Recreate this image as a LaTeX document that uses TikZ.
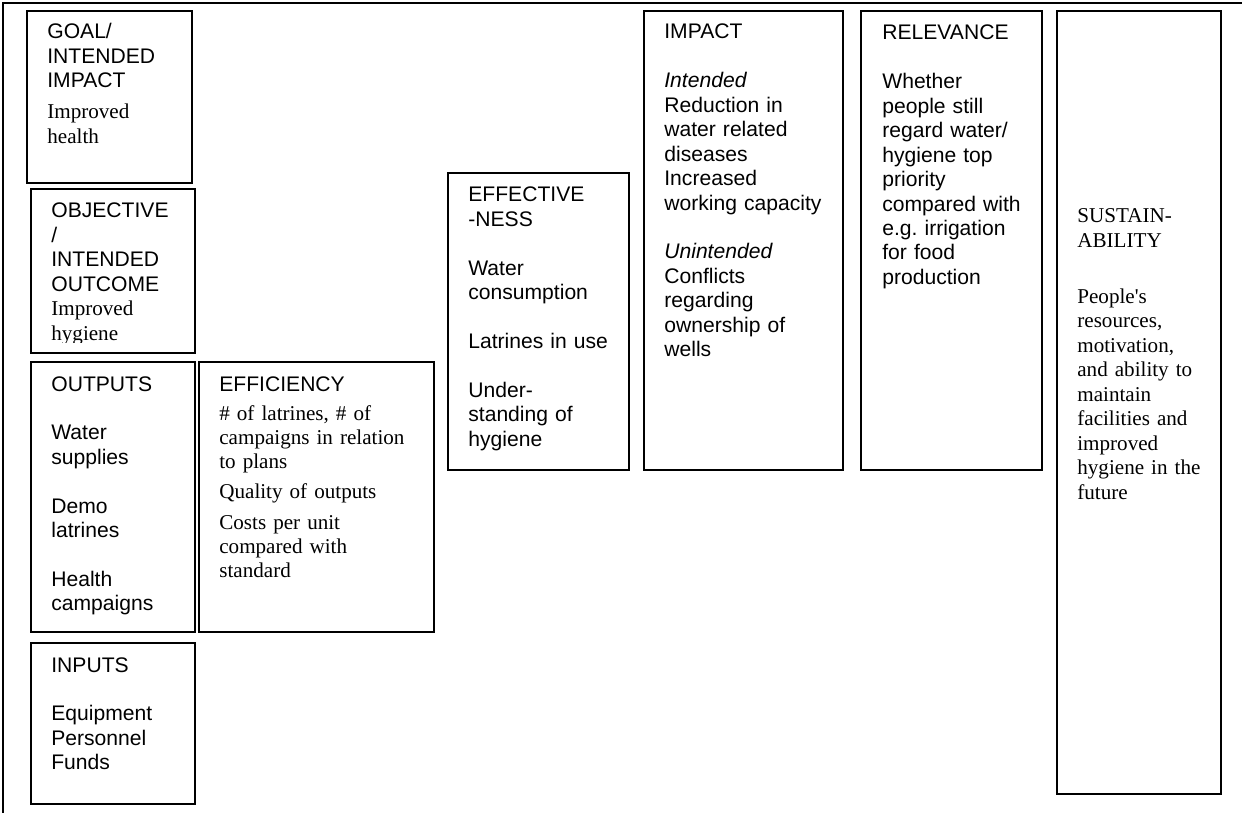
\documentclass[tikz,border=0pt]{standalone}
\usepackage{fontspec}
\setmainfont{Liberation Serif}
\setsansfont{Liberation Sans}
\frenchspacing
\newcommand{\pxl}{0.5687pt}
\tikzset{
	panel/.style 2 args={draw, line width=1.1pt, inner sep=0pt, anchor=north west,
		minimum width=#1*\pxl, minimum height=#2*\pxl}, % one box of the chart
	entry/.style={anchor=base west, inner sep=0pt, align=left, text width=125pt,
		font=\fontsize{12}{13.9}\selectfont\sffamily}, % text of a box
}

\begin{document}
\begin{tikzpicture}[x=\pxl, y=-\pxl]
	\useasboundingbox (0,0) rectangle (1242,813);
	\draw[line width=0.8pt] (3,813) -- (3,3) -- (1242,3);

	% left column
	\node[panel={165}{172}] (goal) at (26,10) {};
	\node[entry] (goaltxt) at ([shift={(21,29)}]goal.north west)
		{GOAL/\\INTENDED\\IMPACT\\[3.7pt]\rmfamily Improved\\health};
	\node[panel={164}{164}] (objective) at (30,188) {};
	\begin{scope}
		\clip (30,188) rectangle (194,342);
		\node[entry] (objtxt) at ([shift={(21,30)}]objective.north west)
			{OBJECTIVE\\/\\INTENDED\\OUTCOME\\\rmfamily Improved\\hygiene};
	\end{scope}
	\node[panel={164}{270}] (outputs) at (30,361) {};
	\node[entry] (outtxt) at ([shift={(21,30)}]outputs.north west)
		{OUTPUTS\\[13.9pt]Water\\supplies\\[13.9pt]Demo\\latrines\\[13.9pt]Health\\campaigns};
	\node[panel={164}{161}] (inputs) at (30,642) {};
	\node[entry] (intxt) at ([shift={(21,30)}]inputs.north west)
		{INPUTS\\[13.9pt]Equipment\\Personnel\\Funds};

	% middle
	\node[panel={235}{270}] (efficiency) at (198,361) {};
	\node[entry] (efftxt) at ([shift={(21,30)}]efficiency.north west)
		{EFFICIENCY\\[2.6pt]\rmfamily \# of latrines, \# of\\campaigns in relation\\to plans\\[3.2pt]Quality of outputs\\[3.2pt]Costs per unit\\compared with\\standard};
	\node[panel={181}{297}] (effectiveness) at (447,172) {};
	\node[entry] (efvtxt) at ([shift={(21,30)}]effectiveness.north west)
		{EFFECTIVE\\-NESS\\[13.9pt]Water\\consumption\\[13.9pt]Latrines in use\\[13.9pt]Under-\\standing of\\hygiene};
	\node[panel={199}{459}] (impact) at (643,10) {};
	\node[entry] (imptxt) at ([shift={(21,29)}]impact.north west)
		{IMPACT\\[13.9pt]\textit{Intended}\\Reduction in\\water related\\diseases\\Increased\\working capacity\\[13.9pt]\textit{Unintended}\\Conflicts\\regarding\\ownership of\\wells};

	% right
	\node[panel={181}{459}] (relevance) at (860,10) {};
	\node[entry] (reltxt) at ([shift={(22,30)}]relevance.north west)
		{RELEVANCE\\[13.9pt]Whether\\people still\\regard water/\\hygiene top\\priority\\compared with\\e.g. irrigation\\for food\\production};
	\node[panel={164}{783}] (sustainability) at (1056,10) {};
	\node[entry, font=\fontsize{12}{13.9}\selectfont\rmfamily] (sustxt) at ([shift={(21,213)}]sustainability.north west)
		{SUSTAIN-\\ABILITY\\[18pt]People\textquotesingle s\\resources,\\motivation,\\and ability to\\maintain\\facilities and\\improved\\hygiene in the\\future};
\end{tikzpicture}
\end{document}
